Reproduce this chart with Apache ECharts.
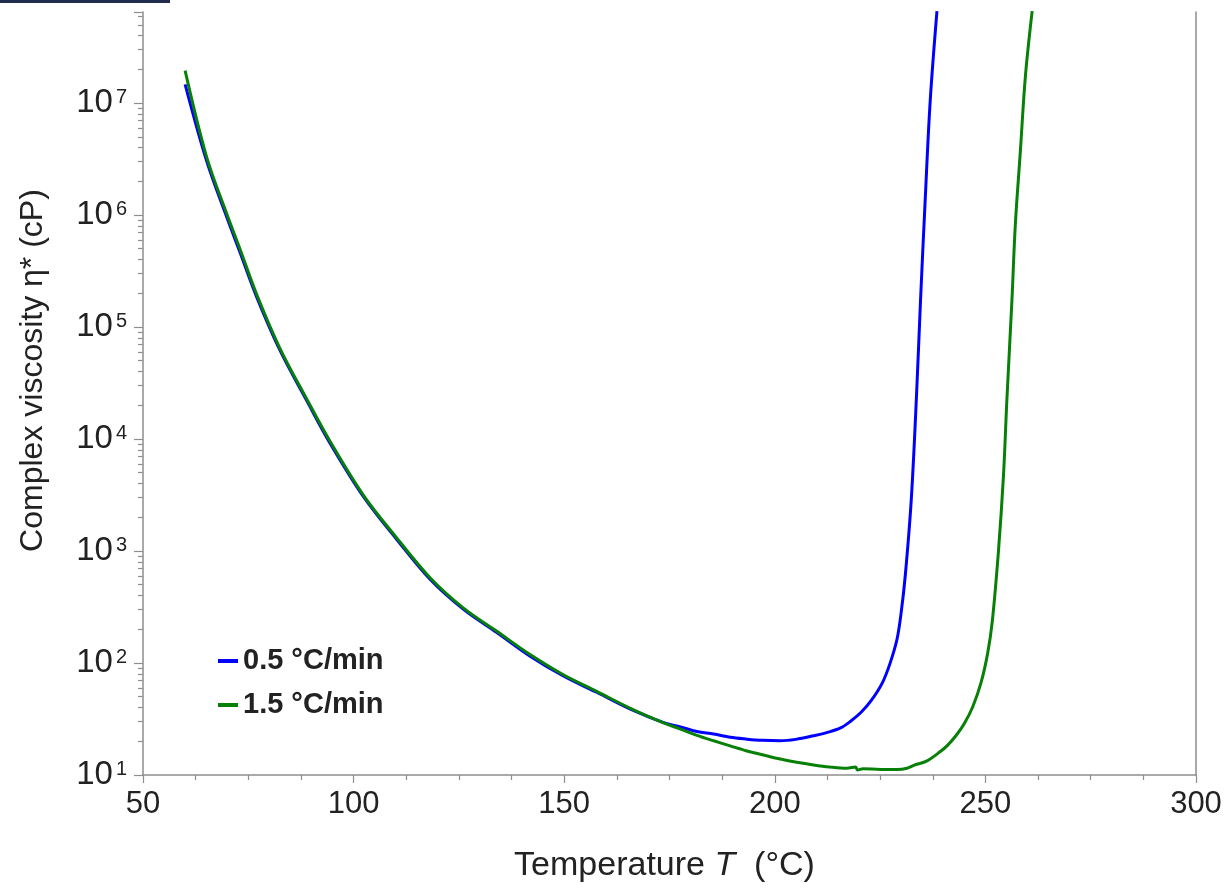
<!DOCTYPE html>
<html>
<head>
<meta charset="utf-8">
<script src="https://cdn.jsdelivr.net/npm/echarts@6/dist/echarts.min.js"></script>
<style>
html,body{margin:0;padding:0;background:#fff;}
#chart{width:1232px;height:888px;}
</style>
</head>
<body>
<div id="chart"></div>
<script>
// ---- Data ----
const seriesNames = ['0.5 °C/min', '1.5 °C/min'];

const tempSlow = [60, 65.1, 69.9, 73, 77, 82.5, 88.9, 94.4, 102.3, 110.3, 118.2, 126.1, 134, 141.9, 149.8, 157.8, 165.7, 173.6, 177.6, 181.5, 185.5, 189.4, 193.4, 197, 201.3, 205, 209.2, 212.5, 215.6, 218, 220.5, 223, 225.5, 227.3, 229, 230, 231, 232.4, 233.6, 234.6, 235.7, 236.9, 238.5];
const viscSlow = [1.47e7, 3.05e6, 9.55e5, 4.68e5, 1.85e5, 6.21e4, 2.19e4, 9.18e3, 3.07e3, 1.26e3, 556, 301, 187, 115, 76.6, 54.5, 38.7, 29.4, 26.9, 24.5, 23.2, 21.7, 20.9, 20.4, 20.2, 20.8, 22.4, 24.0, 26.3, 30.2, 36.3, 46.8, 66.1, 97.7, 162, 282, 617, 2.88e3, 2.24e4, 1.74e5, 1.35e6, 1.05e7, 6.61e7];

const tempFast = [60, 65.1, 69.9, 73, 77, 82.5, 88.9, 94.4, 102.3, 110.3, 118.2, 126.1, 134, 141.9, 149.8, 157.8, 165.7, 173.6, 177.6, 181.5, 185.5, 189.4, 193.4, 197.3, 201.3, 205.2, 209.2, 213, 217.1, 219.2, 219.6, 221, 225.1, 229, 231.4, 233, 236, 239.3, 241, 243, 245, 247, 249, 250.5, 251.6, 253.1, 254.3, 255.1, 256.3, 257.1, 258.3, 259.5, 261.1];
const viscFast = [1.95e7, 3.31e6, 1.02e6, 5.01e5, 1.95e5, 6.46e4, 2.27e4, 9.55e3, 3.16e3, 1.30e3, 575, 309, 192, 119, 78.5, 55.6, 39.4, 29.2, 25.7, 22.6, 20.2, 18.2, 16.4, 15.1, 13.9, 13.0, 12.3, 11.8, 11.5, 11.8, 11.1, 11.4, 11.2, 11.2, 11.5, 12.2, 13.3, 16.2, 18.4, 22.4, 28.8, 40.7, 67.6, 120, 229, 1.0e3, 4.79e3, 2.24e4, 1.74e5, 8.13e5, 3.72e6, 1.74e7, 6.61e7];

const xTicks = [50, 100, 150, 200, 250, 300];
const yDecades = [1, 2, 3, 4, 5, 6, 7];
const yMinorMultipliers = [2, 3, 4, 5, 6, 7, 8, 9];
const yMin = 10, yMax = 6.5e7;

const xTitle = 'Temperature';
const xTitleVar = 'T';
const xTitleUnit = '(°C)';
const yTitle = 'Complex viscosity η* (cP)';

// ---- Build ----
const FONT = '"Liberation Sans", Arial, Helvetica, sans-serif';
const AXIS_COLOR = '#8e8e8e';
const TEXT_COLOR = '#222';

const minorLogTicks = [];
yDecades.forEach(d => yMinorMultipliers.forEach(m => {
  const v = Math.log10(m) + d;
  if (v < Math.log10(yMax)) minorLogTicks.push(v);
}));

const pairs = (xs, ys) => xs.map((x, i) => [x, ys[i]]);

const chart = echarts.init(document.getElementById('chart'), null, {renderer: 'canvas'});
chart.setOption({
  animation: false,
  backgroundColor: '#fff',
  textStyle: {fontFamily: FONT},
  graphic: [{
    type: 'rect', left: 0, top: 0, z: 100,
    shape: {width: 170, height: 3},
    style: {fill: '#1f2c4c'}
  }],
  grid: {left: 143, right: 36, top: 12, bottom: 112, containLabel: false},
  legend: {
    orient: 'vertical',
    left: 218, top: 646, padding: 0,
    itemWidth: 20, itemHeight: 4, itemGap: 14,
    icon: 'rect',
    textStyle: {fontFamily: FONT, fontSize: 29, fontWeight: 'bold', color: TEXT_COLOR, lineHeight: 30},
    data: seriesNames
  },
  xAxis: {
    type: 'value', min: xTicks[0], max: xTicks[xTicks.length - 1], interval: 50,
    name: '{n|' + xTitle + ' }{i|' + xTitleVar + '}{n|  ' + xTitleUnit + '}',
    nameLocation: 'middle', nameGap: 74,
    nameTextStyle: {
      padding: [0, 10, 0, 0],
      rich: {
        n: {fontFamily: FONT, fontSize: 34, color: TEXT_COLOR},
        i: {fontFamily: FONT, fontSize: 34, color: TEXT_COLOR, fontStyle: 'italic'}
      }
    },
    axisLine: {show: true, onZero: false, lineStyle: {color: AXIS_COLOR, width: 1.5}},
    axisTick: {show: true, inside: false, length: 8, lineStyle: {color: AXIS_COLOR, width: 1.2}},
    minorTick: {show: true, splitNumber: 4, length: 5, lineStyle: {color: AXIS_COLOR, width: 1.2}},
    axisLabel: {fontFamily: FONT, fontSize: 31, color: TEXT_COLOR, margin: 14},
    splitLine: {show: false}
  },
  yAxis: [{
    type: 'log', logBase: 10, min: yMin, max: yMax, splitNumber: 7,
    position: 'left',
    name: yTitle, nameLocation: 'middle', nameGap: 94,
    nameTextStyle: {fontFamily: FONT, fontSize: 32, color: TEXT_COLOR, padding: [0, 0, 0, 46]},
    axisLine: {show: true, onZero: false, lineStyle: {color: AXIS_COLOR, width: 1.5}},
    axisTick: {show: true, inside: false, length: 9, lineStyle: {color: AXIS_COLOR, width: 1.2}},
    axisLabel: {
      margin: 16,
      formatter: function (v) {
        const e = Math.round(Math.log10(v));
        if (yDecades.indexOf(e) < 0 || Math.abs(v - Math.pow(10, e)) / v > 1e-6) return '';
        return '{b|10}{s|' + e + '}';
      },
      rich: {
        b: {fontFamily: FONT, fontSize: 33, color: TEXT_COLOR, lineHeight: 32},
        s: {fontFamily: FONT, fontSize: 20, color: TEXT_COLOR, lineHeight: 20, verticalAlign: 'top', padding: [0, 0, 0, 3]}
      }
    },
    splitLine: {show: false},
    minorTick: {show: false}
  }, {
    type: 'value', min: 1, max: Math.log10(yMax), position: 'left',
    axisLine: {show: false},
    axisTick: {show: true, inside: false, length: 5, customValues: minorLogTicks, lineStyle: {color: AXIS_COLOR, width: 1.2}},
    axisLabel: {show: false},
    splitLine: {show: false}
  }, {
    type: 'log', logBase: 10, min: yMin, max: yMax, position: 'right',
    axisLine: {show: true, onZero: false, lineStyle: {color: AXIS_COLOR, width: 1.5}},
    axisTick: {show: false},
    axisLabel: {show: false},
    splitLine: {show: false}
  }],
  series: [{
    name: seriesNames[0], type: 'line', yAxisIndex: 0,
    data: pairs(tempSlow, viscSlow),
    showSymbol: false, smooth: 0.35, clip: true,
    lineStyle: {color: '#0000ff', width: 3},
    itemStyle: {color: '#0000ff'}
  }, {
    name: seriesNames[1], type: 'line', yAxisIndex: 0,
    data: pairs(tempFast, viscFast),
    showSymbol: false, smooth: 0.35, clip: true,
    lineStyle: {color: '#078007', width: 3},
    itemStyle: {color: '#078007'}
  }]
});
</script>
</body>
</html>
